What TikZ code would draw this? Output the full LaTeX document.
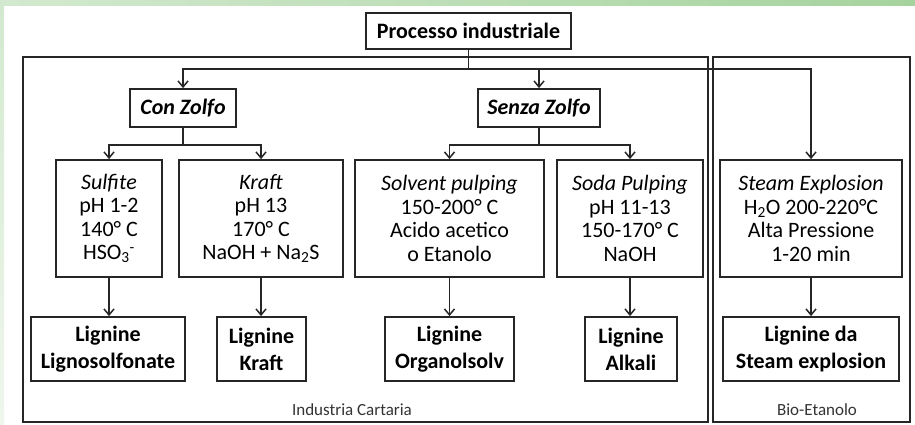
\documentclass[tikz,border=0pt]{standalone}
\usepackage{fontspec}
\setmainfont{Carlito}
\usetikzlibrary{arrows.meta}

\definecolor{bandL}{HTML}{D3E9CF}
\definecolor{bandR}{HTML}{A5D39D}
\definecolor{bandB}{HTML}{EFF7ED}

\tikzset{
  box/.style={draw=black!85, line width=1.8pt, fill=white, align=center,
    inner sep=0pt, font=\fontsize{22}{23.5}\selectfont},
  proc/.style={box, font=\fontsize{22}{24}\selectfont\bfseries},
  res/.style={box, font=\fontsize{22}{27}\selectfont\bfseries},
  frame/.style={draw=black!85, line width=2pt},
  arr/.style={draw=black!85, line width=1.5pt, -{Straight Barb[length=6pt,width=10pt]}},
  lnk/.style={draw=black!85, line width=1.5pt},
  tag/.style={font=\fontsize{17}{19}\selectfont, text=black!80}
}

\begin{document}
\begin{tikzpicture}[x=1pt,y=-1pt]
  \useasboundingbox (0,0) rectangle (915,425);
  \fill[white] (0,0) rectangle (915,425);
  \shade[left color=bandL, right color=bandR] (0,0) rectangle (915,6);
  \shade[top color=bandL, bottom color=bandB] (0,6) rectangle (4,425);

  % the two areas
  \draw[frame] (23,57) rectangle (708,422);
  \draw[frame] (713,57) rectangle (910,422);
  \node[tag] (cartaria) at (352,410) {Industria Cartaria};
  \node[tag] (etanolo) at (817,410) {Bio-Etanolo};

  % top level
  \node[proc, minimum width=205, minimum height=36] (processo) at (468.5,31) {Processo industriale};
  \node[proc, minimum width=106, minimum height=38] (con) at (183,108) {\itshape Con Zolfo};
  \node[proc, minimum width=122, minimum height=38] (senza) at (539,108) {\itshape Senza Zolfo};

  % processes
  \begin{scope}[every node/.append style={minimum height=117}]
    \node[box, minimum width=106] (sulfite) at (109,218.5)
      {\textit{Sulfite}\\pH 1-2\\140° C\\HSO\textsubscript{3}\textsuperscript{-}};
    \node[box, minimum width=164] (kraft) at (261,218.5)
      {\textit{Kraft}\\pH 13\\170° C\\NaOH + Na\textsubscript{2}S};
    \node[box, minimum width=189] (solvent) at (449.5,218.5)
      {\textit{Solvent pulping}\\150-200° C\\Acido acetico\\o Etanolo};
    \node[box, minimum width=146] (soda) at (630,218.5)
      {\textit{Soda Pulping}\\pH 11-13\\150-170° C\\NaOH};
    \node[box, minimum width=182] (steam) at (811,218.5)
      {\textit{Steam Explosion}\\H\textsubscript{2}O 200-220°C\\Alta Pressione\\1-20 min};
  \end{scope}

  % lignins
  \begin{scope}[every node/.append style={minimum height=64}]
    \node[res, minimum width=154] (lsulf) at (108,349) {Lignine\\Lignosolfonate};
    \node[res, minimum width=89] (lkraft) at (261.5,349) {Lignine\\Kraft};
    \node[res, minimum width=129] (lorgano) at (449.5,349) {Lignine\\Organolsolv};
    \node[res, minimum width=92] (lalkali) at (631,349) {Lignine\\Alkali};
    \node[res, minimum width=176] (lsteam) at (811,349) {Lignine da\\Steam explosion};
  \end{scope}

  % branching
  \coordinate (split) at (468.5,69);
  \coordinate (consplit) at (183,145);
  \coordinate (senzasplit) at (539,145);

  \draw[lnk] (processo.south) -- (split);
  \draw[arr] (split) -| (con.north);
  \draw[arr] (split) -| (senza.north);
  \draw[arr] (split) -| (steam.north);

  \draw[lnk] (con.south) -- (consplit);
  \draw[arr] (consplit) -| (sulfite.north);
  \draw[arr] (consplit) -| (kraft.north);
  \draw[lnk] (senza.south) -- (senzasplit);
  \draw[arr] (senzasplit) -| (solvent.north);
  \draw[arr] (senzasplit) -| (soda.north);

  \draw[arr] (sulfite.south) -- (sulfite.south |- lsulf.north);
  \draw[arr] (kraft.south) -- (kraft.south |- lkraft.north);
  \draw[arr] (solvent.south) -- (solvent.south |- lorgano.north);
  \draw[arr] (soda.south) -- (soda.south |- lalkali.north);
  \draw[arr] (steam.south) -- (steam.south |- lsteam.north);
\end{tikzpicture}
\end{document}
